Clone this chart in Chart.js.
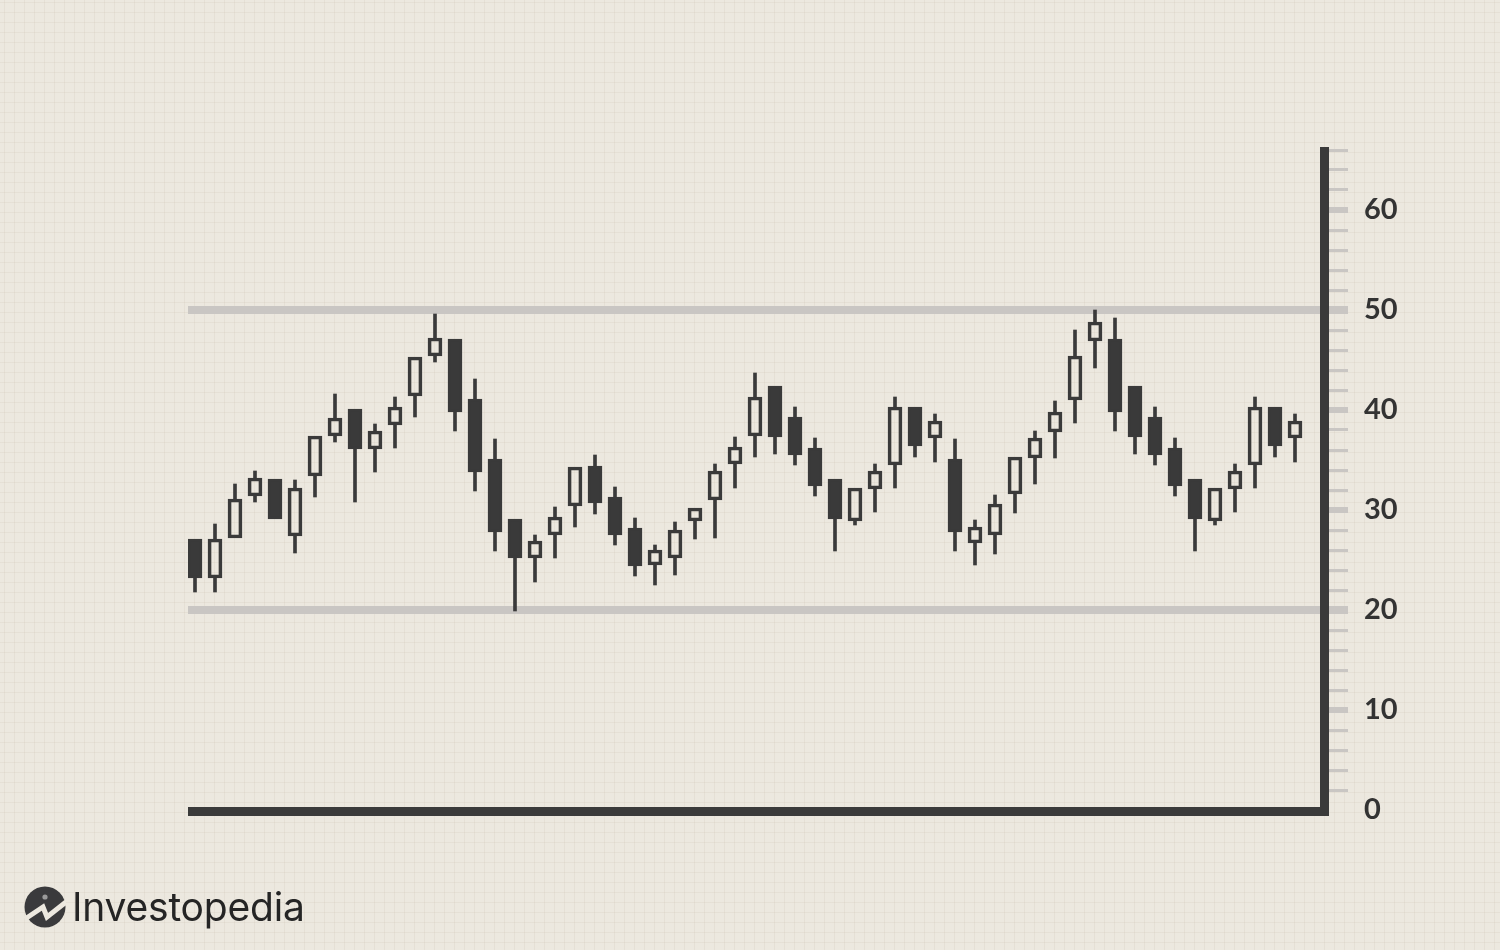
<!DOCTYPE html>
<html>
<head>
<meta charset="utf-8">
<script src="https://cdn.jsdelivr.net/npm/chart.js@4.4.1/dist/chart.umd.min.js"></script>
<style>
  html, body { margin: 0; padding: 0; }
  body {
    width: 1500px; height: 950px; overflow: hidden; position: relative;
    background-color: #ece8df;
    background-image:
      linear-gradient(to right, rgba(205,195,178,0.22) 1px, transparent 1px),
      linear-gradient(to bottom, rgba(205,195,178,0.22) 1px, transparent 1px);
    background-size: 10px 10px;
    background-position: 4px 2px;
  }
  #wrap { position: absolute; left: 0; top: 0; width: 1500px; height: 950px; }
  #logo { position: absolute; left: 24px; top: 886px; display: flex; align-items: center; }
  #logo span { font-family: Inter, "Open Sans", sans-serif; font-size: 39px; color: #252525; margin-left: 6px; letter-spacing: -0.2px; line-height: 42px; }
</style>
</head>
<body>
<div id="wrap"><canvas id="c" width="1500" height="950"></canvas></div>
<div id="logo">
  <svg width="42" height="42" viewBox="0 0 42 42">
    <circle cx="21" cy="21" r="20.5" fill="#3a3a3c"/>
    <polyline points="1,33 19,21 23,31 42,16" fill="none" stroke="#ece8df" stroke-width="5" stroke-linejoin="miter"/>
    <circle cx="21" cy="11" r="2.6" fill="#9a9a9a"/>
  </svg>
  <span>Investopedia</span>
</div>
<script>
// ---- data ----
const openP  = [27.1,23.2,27.2,31.4,33.1,27.4,33.4,37.4,40.1,36.1,38.5,41.4,45.4,47.1,41.1,35.1,29.1,25.2,27.5,30.4,34.4,31.3,28.2,24.5,25.2,28.9,31.0,34.6,37.4,42.4,39.3,36.2,33.1,28.9,32.1,34.5,40.3,37.2,35.1,26.7,27.5,31.6,35.2,37.8,41.0,46.9,47.1,42.4,39.3,36.2,33.1,28.9,32.1,34.5,40.3,37.2];
const highP  = [27.1,28.6,32.6,33.9,33.1,33.0,37.4,41.6,40.1,38.6,41.3,45.3,49.6,47.1,43.1,37.1,29.1,27.5,30.3,34.3,35.5,32.3,29.2,26.5,28.8,30.2,34.6,37.3,43.7,42.4,40.3,37.2,33.1,32.2,34.6,41.3,40.3,39.6,37.1,29.0,31.5,35.3,37.9,40.9,48.0,50.0,49.2,42.4,40.3,37.2,33.1,32.2,34.6,41.3,40.3,39.6];
const lowP   = [21.8,21.8,27.2,30.8,29.1,25.7,31.3,36.8,30.8,33.8,36.2,39.3,44.8,37.9,31.9,25.9,19.9,22.8,25.2,28.3,29.6,26.5,23.4,22.5,23.5,27.1,27.2,32.2,35.3,35.6,34.5,31.4,25.9,28.5,29.8,32.2,35.3,34.8,25.9,24.5,25.6,29.7,32.6,35.2,38.7,44.2,37.9,35.6,34.5,31.4,25.9,28.5,29.8,32.2,35.3,34.8];
const closeP = [23.2,27.1,31.1,33.2,29.1,32.2,37.4,39.2,36.1,37.9,40.3,45.3,47.2,39.8,33.8,27.8,25.2,26.9,29.3,34.3,30.7,27.5,24.4,26.0,28.0,30.2,33.9,36.3,41.3,37.3,35.5,32.4,29.1,32.2,33.9,40.3,36.4,38.9,27.8,28.3,30.6,35.3,37.2,39.8,45.4,48.8,39.8,37.3,35.5,32.4,29.1,32.2,33.9,40.3,36.4,38.9];
const levels = [20, 50];          // support / resistance lines
const yMin = 0, yMax = 66, yStep = 2, yLabelEvery = 10;

const DARK = '#3a3a3a';
const n = openP.length;
const idx = [...Array(n).keys()];

const bodies = idx.map(i => ({ x: i, y: [openP[i], closeP[i]] }));
const upperWicks = idx.map(i => {
  const top = Math.max(openP[i], closeP[i]);
  return highP[i] > top ? { x: i, y: [top, highP[i]] } : null;
}).filter(Boolean);
const lowerWicks = idx.map(i => {
  const bot = Math.min(openP[i], closeP[i]);
  return lowP[i] < bot ? { x: i, y: [lowP[i], bot] } : null;
}).filter(Boolean);

const guidesPlugin = {
  id: 'guides',
  beforeDatasetsDraw(chart) {
    const { ctx, chartArea } = chart;
    const ys = chart.scales.y;
    ctx.save();
    ctx.strokeStyle = '#c9c6c3';
    ctx.lineWidth = 8;
    levels.forEach(v => {
      const py = ys.getPixelForValue(v);
      ctx.beginPath();
      ctx.moveTo(chartArea.left, py);
      ctx.lineTo(chartArea.right + 24, py);
      ctx.stroke();
    });
    ctx.restore();
  },
  afterDatasetsDraw(chart) {
    const { ctx, chartArea } = chart;
    const ys = chart.scales.y;
    const y0 = ys.getPixelForValue(yMin);
    const yTop = ys.getPixelForValue(yMax);
    ctx.save();
    ctx.fillStyle = DARK;
    ctx.fillRect(chartArea.right - 4, yTop - 3, 9, y0 - yTop + 9);
    ctx.fillRect(chartArea.left, y0 - 3, chartArea.right + 5 - chartArea.left, 9);
    ctx.restore();
  }
};

new Chart(document.getElementById('c'), {
  type: 'bar',
  data: {
    datasets: [
      {
        label: 'body',
        data: bodies,
        order: 0,
        grouped: false,
        barThickness: 14,
        borderWidth: 3,
        borderSkipped: false,
        borderColor: DARK,
        backgroundColor: ctx => {
          const i = ctx.dataIndex;
          return closeP[i] < openP[i] ? DARK : 'rgba(0,0,0,0)';
        }
      },
      {
        label: 'upper',
        data: upperWicks,
        order: 1,
        grouped: false,
        barThickness: 3,
        borderWidth: 0,
        backgroundColor: DARK
      },
      {
        label: 'lower',
        data: lowerWicks,
        order: 1,
        grouped: false,
        barThickness: 3,
        borderWidth: 0,
        backgroundColor: DARK
      }
    ]
  },
  options: {
    responsive: false,
    animation: false,
    layout: { padding: { left: 188, top: 150, bottom: 140, right: 0 } },
    plugins: { legend: { display: false }, tooltip: { enabled: false } },
    scales: {
      x: {
        type: 'linear',
        offset: false,
        bounds: 'data',
        min: -0.35,
        max: 56.45,
        display: false
      },
      y: {
        position: 'right',
        min: yMin,
        max: yMax,
        afterFit: s => { s.width = 176; },
        border: { display: false },
        grid: {
          drawOnChartArea: false,
          drawTicks: true,
          tickLength: 24,
          lineWidth: c => (c.tick && c.tick.value % yLabelEvery === 0) ? 6 : 3,
          tickWidth: c => (c.tick && c.tick.value % yLabelEvery === 0) ? 6 : 3,
          color: c => (c.tick && c.tick.value === yMin) ? 'rgba(0,0,0,0)' : '#c9c6c3',
          tickColor: c => (c.tick && c.tick.value === yMin) ? 'rgba(0,0,0,0)' : '#c9c6c3'
        },
        ticks: {
          stepSize: yStep,
          autoSkip: false,
          padding: 16,
          color: '#333333',
          font: { family: 'Lato', size: 29, weight: 'bold' },
          callback: v => (v % yLabelEvery === 0 ? String(v) : '')
        }
      }
    }
  },
  plugins: [guidesPlugin]
});
</script>
</body>
</html>
